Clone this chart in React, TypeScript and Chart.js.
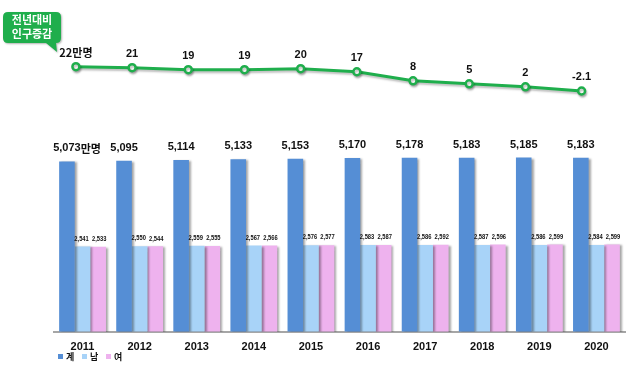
import React, { useEffect, useRef } from "react";
import { Chart, registerables } from "chart.js";

Chart.register(...registerables);

const years = ["2011", "2012", "2013", "2014", "2015", "2016", "2017", "2018", "2019", "2020"];
const total = [5073, 5095, 5114, 5133, 5153, 5170, 5178, 5183, 5185, 5183];
const male = [2541, 2550, 2559, 2567, 2576, 2583, 2586, 2587, 2586, 2584];
const female = [2533, 2544, 2555, 2566, 2577, 2587, 2592, 2596, 2599, 2599];
const change = [22, 21, 19, 19, 20, 17, 8, 5, 2, -2.1];
const changeLabels = ["22만명", "21", "19", "19", "20", "17", "8", "5", "2", "-2.1"];
const legendLabels = ["계", "남", "여"];
const calloutLines = ["전년대비", "인구증감"];

const BLUE = "#558ed5";
const LIGHT = "#a8d3f8";
const PINK = "#eeb2ee";
const GREEN = "#1fae4c";
const FONT = '"Liberation Sans", Arial, sans-serif';
const KFONT = '"Noto Sans CJK KR", "Liberation Sans", sans-serif';

const fmt = (v: number) => v.toLocaleString("en-US");

const shadowPlugin = {
  id: "shadows",
  beforeDatasetDraw(chart: any, args: any) {
    const ctx = chart.ctx;
    ctx.save();
    if (args.meta.type === "bar") {
      ctx.shadowColor = "rgba(0,0,0,0.35)";
      ctx.shadowOffsetX = 2;
      ctx.shadowOffsetY = 1;
      ctx.shadowBlur = 2;
    } else {
      ctx.shadowColor = "rgba(0,0,0,0.25)";
      ctx.shadowOffsetX = 1;
      ctx.shadowOffsetY = 2;
      ctx.shadowBlur = 2;
    }
  },
  afterDatasetDraw(chart: any) {
    chart.ctx.restore();
  },
};

const barLabels = {
  id: "barLabels",
  afterDraw(chart: any) {
    const ctx = chart.ctx;
    ctx.save();
    ctx.fillStyle = "#111";
    ctx.textBaseline = "middle";
    const m0 = chart.getDatasetMeta(0);
    m0.data.forEach((bar: any, i: number) => {
      const txt = fmt(total[i]);
      ctx.font = `bold 11px ${FONT}`;
      const w = ctx.measureText(txt).width;
      ctx.textAlign = "left";
      ctx.fillText(txt, bar.x - w / 2, bar.y - 13);
      if (i === 0) {
        ctx.font = `bold 11px ${KFONT}`;
        ctx.fillText("만명", bar.x + w / 2, bar.y - 13);
      }
    });
    ctx.font = `bold 8px ${FONT}`;
    ctx.textAlign = "center";
    [1, 2].forEach((d) => {
      const meta = chart.getDatasetMeta(d);
      const vals = d === 1 ? male : female;
      meta.data.forEach((bar: any, i: number) => {
        ctx.save();
        ctx.translate(bar.x + (d === 1 ? -1 : 1), bar.y - 8);
        ctx.scale(0.72, 1);
        ctx.fillText(fmt(vals[i]), 0, 0);
        ctx.restore();
      });
    });
    const colors = [BLUE, LIGHT, PINK];
    let lx = 58;
    const ly = 357;
    ctx.font = `bold 9px ${KFONT}`;
    ctx.textAlign = "left";
    legendLabels.forEach((lab, i) => {
      ctx.fillStyle = colors[i];
      ctx.fillRect(lx, ly - 3, 5, 5);
      ctx.fillStyle = "#111";
      ctx.fillText(lab, lx + 8, ly);
      lx += 24;
    });
    ctx.restore();
  },
};

const lineLabels = {
  id: "lineLabels",
  afterDraw(chart: any) {
    const ctx = chart.ctx;
    ctx.save();
    ctx.fillStyle = "#111";
    ctx.textBaseline = "middle";
    ctx.textAlign = "center";
    const m = chart.getDatasetMeta(0);
    m.data.forEach((pt: any, i: number) => {
      ctx.font = `bold 11px ${i === 0 ? KFONT : FONT}`;
      ctx.fillText(changeLabels[i], pt.x, pt.y - 14);
    });
    // callout
    ctx.fillStyle = GREEN;
    ctx.shadowColor = "rgba(0,0,0,0.3)";
    ctx.shadowOffsetX = 1;
    ctx.shadowOffsetY = 1;
    ctx.shadowBlur = 2;
    const bx = 3, by = 12, bw = 58, bh = 31, r = 5;
    ctx.beginPath();
    ctx.moveTo(bx + r, by);
    ctx.lineTo(bx + bw - r, by);
    ctx.quadraticCurveTo(bx + bw, by, bx + bw, by + r);
    ctx.lineTo(bx + bw, by + bh - r);
    ctx.quadraticCurveTo(bx + bw, by + bh, bx + bw - r, by + bh);
    ctx.lineTo(56, by + bh);
    ctx.lineTo(57, 52);
    ctx.lineTo(46, by + bh);
    ctx.lineTo(bx + r, by + bh);
    ctx.quadraticCurveTo(bx, by + bh, bx, by + bh - r);
    ctx.lineTo(bx, by + r);
    ctx.quadraticCurveTo(bx, by, bx + r, by);
    ctx.closePath();
    ctx.fill();
    ctx.shadowColor = "transparent";
    ctx.fillStyle = "#fff";
    ctx.font = `bold 11px ${KFONT}`;
    ctx.fillText(calloutLines[0], 32, 20);
    ctx.fillText(calloutLines[1], 32, 34);
    ctx.restore();
  },
};

export default function App() {
  const barRef = useRef<HTMLCanvasElement>(null);
  const lineRef = useRef<HTMLCanvasElement>(null);
  useEffect(() => {
    const bar = new Chart(barRef.current!, {
      type: "bar",
      data: {
        labels: years,
        datasets: [
          { label: legendLabels[0], data: total, backgroundColor: BLUE },
          { label: legendLabels[1], data: male, backgroundColor: LIGHT },
          { label: legendLabels[2], data: female, backgroundColor: PINK },
        ],
      },
      options: {
        animation: false,
        responsive: true,
        maintainAspectRatio: false,
        layout: { padding: { left: 54, right: 5, top: 10, bottom: 2 } },
        plugins: { legend: { display: false }, tooltip: { enabled: false } },
        categoryPercentage: 0.82,
        barPercentage: 1.0,
        scales: {
          x: {
            grid: { display: false, drawTicks: false },
            border: { display: true, color: "#a6a6a6", width: 2 },
            ticks: { color: "#111", padding: 9, font: { family: FONT, size: 11, weight: "bold" } },
          },
          y: { display: false, min: 0, max: 9579 },
        },
      } as any,
      plugins: [shadowPlugin, barLabels],
    });
    const line = new Chart(lineRef.current!, {
      type: "line",
      data: {
        datasets: [
          {
            label: "증감",
            data: change.map((v, i) => ({ x: i, y: v })),
            borderColor: GREEN,
            borderWidth: 3,
            pointRadius: 3.5,
            pointBorderWidth: 2.5,
            pointBackgroundColor: "#fff",
            pointBorderColor: GREEN,
          },
        ],
      },
      options: {
        animation: false,
        responsive: true,
        maintainAspectRatio: false,
        layout: { padding: { left: 54, right: 5, top: 10, bottom: 34 } },
        plugins: { legend: { display: false }, tooltip: { enabled: false } },
        scales: {
          x: { type: "linear", display: false, min: -0.39, max: 9.746 },
          y: { display: false, min: -240.2, max: 78.25 },
        },
      } as any,
      plugins: [shadowPlugin, lineLabels],
    });
    return () => {
      bar.destroy();
      line.destroy();
    };
  }, []);
  return (
    <div style={{ position: "fixed", left: 0, top: 0, width: 630, height: 365, background: "#fff" }}>
      <div style={{ position: "absolute", left: 0, top: 0, width: 630, height: 365 }}>
        <canvas ref={barRef} />
      </div>
      <div style={{ position: "absolute", left: 0, top: 0, width: 630, height: 365 }}>
        <canvas ref={lineRef} />
      </div>
    </div>
  );
}
